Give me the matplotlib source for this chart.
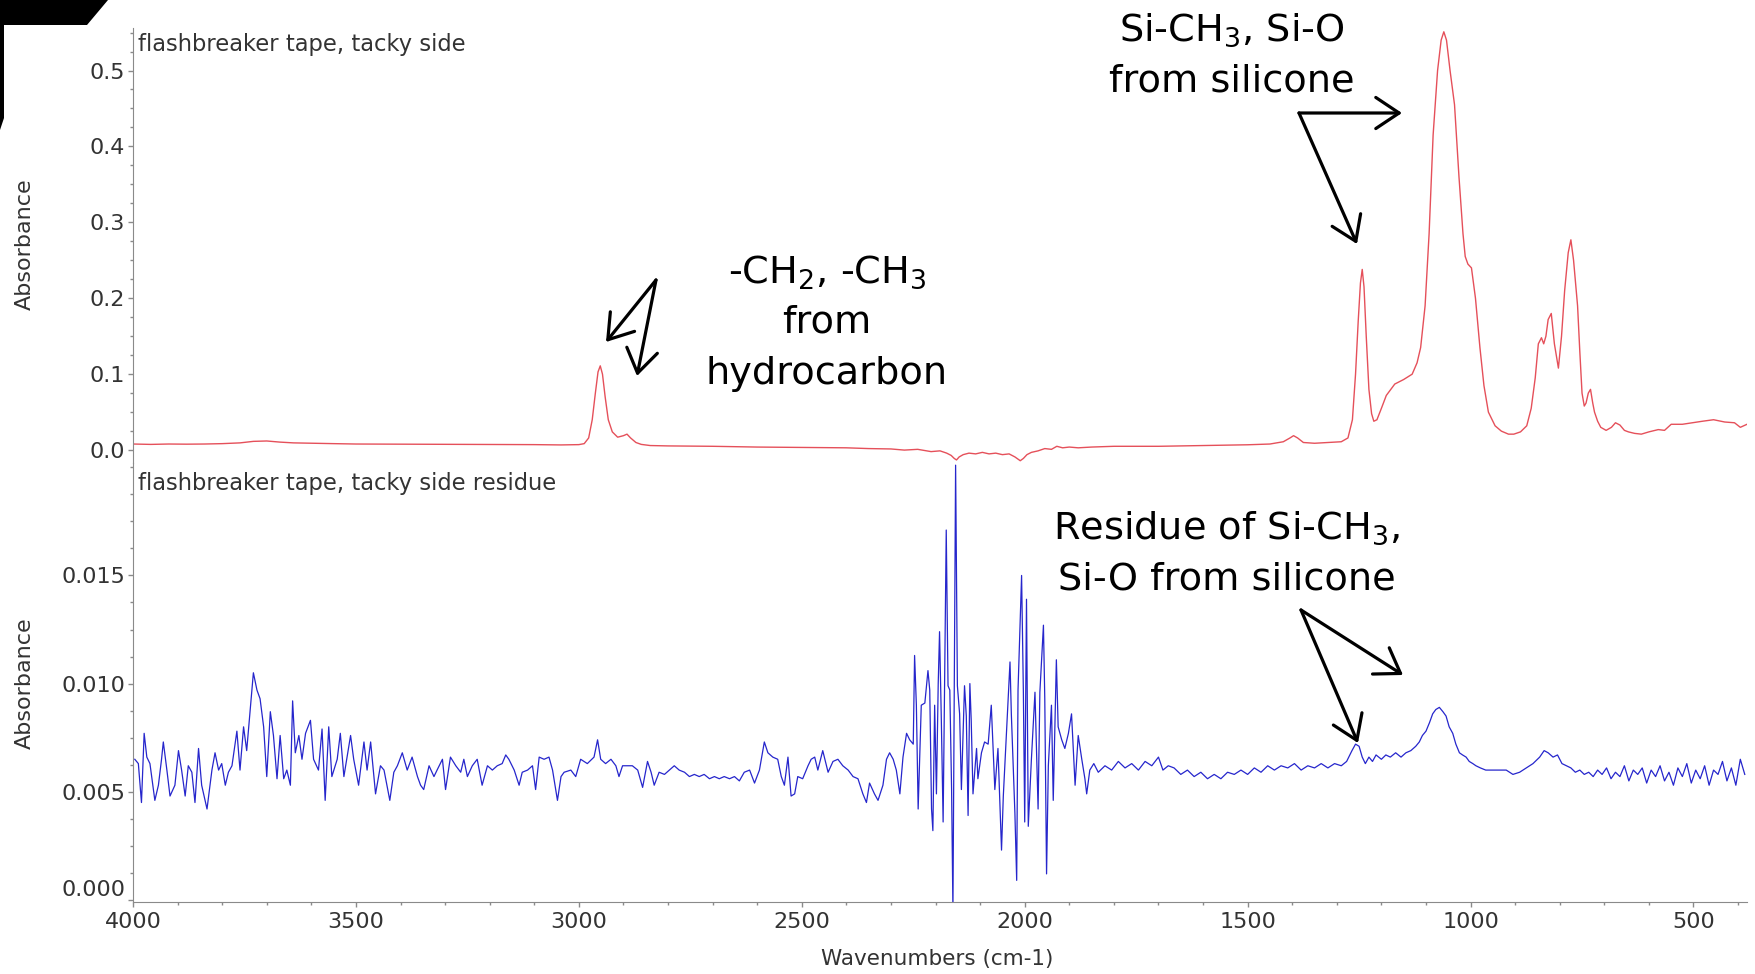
import matplotlib
matplotlib.use("Agg")
import matplotlib.pyplot as plt
from matplotlib.patches import Polygon, FancyArrowPatch
from matplotlib.ticker import MultipleLocator, FormatStrFormatter

plt.rcParams['font.family'] = ['DejaVu Sans']
plt.rcParams['mathtext.fontset'] = 'dejavusans'

# tacky side spectrum (red), wavenumber / absorbance
red_wn = [4000, 3960, 3920, 3880, 3840, 3800, 3760, 3730, 3700, 3670, 3640, 3600, 3550, 3500,
          3400, 3300, 3200, 3100, 3040, 3000, 2988, 2978, 2970, 2963, 2957, 2952, 2947, 2941,
          2934, 2925, 2913, 2900, 2892, 2884, 2872, 2860, 2840, 2800, 2700, 2600, 2500, 2400,
          2350, 2300, 2270, 2240, 2210, 2190, 2175, 2165, 2158, 2153, 2147, 2138, 2125, 2110,
          2095, 2080, 2065, 2050, 2035, 2022, 2015, 2010, 2003, 1995, 1985, 1970, 1955, 1940,
          1928, 1915, 1900, 1880, 1850, 1800, 1700, 1600, 1500, 1450, 1420, 1405, 1397, 1388,
          1375, 1350, 1320, 1290, 1275, 1265, 1258, 1252, 1247, 1243, 1239, 1234, 1228, 1222,
          1217, 1210, 1200, 1189, 1170, 1150, 1131, 1120, 1112, 1102, 1093, 1084, 1074, 1066,
          1060, 1054, 1046, 1036, 1026, 1017, 1012, 1006, 998, 989, 979, 970, 960, 945,
          931, 915, 903, 888, 874, 864, 855, 848, 841, 836, 831, 826, 819, 812,
          803, 796, 789, 781, 775, 769, 760, 755, 750, 745, 741, 736, 731, 726,
          722, 715, 708, 696, 684, 675, 665, 655, 646, 632, 617, 600, 579, 565,
          550, 525, 503, 480, 455, 430, 408, 395, 380]
red_abs = [0.008, 0.0075, 0.008, 0.0078, 0.008, 0.0085, 0.0095, 0.0115, 0.012, 0.0105, 0.0095, 0.009, 0.0085, 0.008,
           0.0078, 0.0076, 0.0074, 0.0072, 0.0068, 0.0072, 0.0085, 0.016, 0.04, 0.075, 0.103, 0.111, 0.1, 0.07,
           0.04, 0.024, 0.017, 0.019, 0.021, 0.016, 0.01, 0.0075, 0.006, 0.0055, 0.005, 0.004, 0.0035, 0.003,
           0.002, 0.0015, 0.0, 0.001, -0.002, -0.001, -0.004, -0.007, -0.011, -0.013, -0.009, -0.006, -0.004, -0.005,
           -0.003, -0.005, -0.004, -0.006, -0.005, -0.009, -0.012, -0.014, -0.011, -0.006, -0.003, -0.001, 0.002, 0.001,
           0.005, 0.003, 0.004, 0.003, 0.004, 0.005, 0.005, 0.006, 0.007, 0.008, 0.011, 0.016, 0.019, 0.016,
           0.01, 0.009, 0.01, 0.011, 0.016, 0.04, 0.1, 0.17, 0.22, 0.238, 0.215, 0.15, 0.08, 0.048,
           0.038, 0.04, 0.055, 0.072, 0.087, 0.093, 0.1, 0.115, 0.135, 0.19, 0.285, 0.415, 0.5, 0.54,
           0.551, 0.54, 0.5, 0.455, 0.36, 0.285, 0.255, 0.245, 0.24, 0.2, 0.135, 0.085, 0.05, 0.032,
           0.025, 0.021, 0.021, 0.024, 0.032, 0.055, 0.095, 0.14, 0.148, 0.14, 0.15, 0.172, 0.18, 0.14,
           0.108, 0.15, 0.21, 0.26, 0.277, 0.25, 0.19, 0.13, 0.075, 0.058, 0.062, 0.075, 0.08, 0.062,
           0.05, 0.038, 0.03, 0.026, 0.03, 0.036, 0.033, 0.026, 0.024, 0.022, 0.021, 0.024, 0.027, 0.026,
           0.034, 0.034, 0.036, 0.038, 0.04, 0.037, 0.036, 0.03, 0.034]

# residue spectrum (blue)
blue_wn = [3996, 3988, 3981, 3975, 3969, 3962, 3951, 3943, 3936, 3932, 3924, 3917, 3906, 3898,
           3891, 3883, 3876, 3868, 3861, 3853, 3846, 3834, 3823, 3816, 3808, 3801, 3793, 3786,
           3778, 3767, 3760, 3752, 3745, 3737, 3730, 3722, 3715, 3707, 3700, 3692, 3685, 3677,
           3670, 3662, 3655, 3647, 3642, 3636, 3628, 3621, 3613, 3602, 3595, 3584, 3576, 3569,
           3561, 3554, 3542, 3535, 3527, 3512, 3505, 3494, 3482, 3475, 3467, 3456, 3445, 3437,
           3424, 3415, 3407, 3396, 3385, 3374, 3362, 3355, 3348, 3336, 3325, 3318, 3306, 3299,
           3288, 3276, 3265, 3258, 3250, 3239, 3228, 3217, 3205, 3194, 3183, 3172, 3164, 3157,
           3145, 3134, 3127, 3115, 3104, 3097, 3089, 3078, 3067, 3059, 3048, 3040, 3033, 3018,
           3007, 2996, 2981,
           2966, 2958, 2951, 2940, 2928, 2917, 2910, 2902, 2891, 2880, 2868, 2857, 2846, 2838,
           2831, 2820, 2808, 2797, 2786, 2775, 2763, 2752, 2741, 2730, 2719, 2707, 2696, 2685,
           2674, 2662, 2651, 2640, 2629, 2617, 2606, 2595, 2584, 2576, 2565, 2554, 2546, 2539,
           2531, 2524, 2516, 2509, 2498, 2486, 2479, 2471, 2464, 2453, 2441, 2430, 2419, 2408,
           2396, 2385, 2374, 2363, 2355, 2348, 2337, 2329, 2318, 2310, 2303, 2295, 2288, 2280,
           2273, 2265, 2258,
           2250, 2247, 2243, 2239, 2232, 2224, 2217, 2213, 2209, 2206, 2202, 2198, 2194, 2191,
           2187, 2183, 2176, 2172, 2168, 2164, 2161, 2155, 2151, 2146, 2142, 2135, 2131, 2127,
           2123, 2120, 2116, 2108, 2105, 2097, 2090, 2082, 2075, 2067, 2060, 2052, 2048, 2041,
           2033, 2030, 2022, 2018, 2015, 2007, 2003, 2000, 1996, 1992, 1985, 1977, 1970, 1966,
           1958, 1955, 1951, 1947, 1940, 1936, 1929, 1925, 1917, 1910, 1902, 1895, 1887, 1880,
           1872, 1865, 1861, 1854,
           1845, 1835, 1820, 1805, 1790, 1775, 1760, 1745, 1730, 1715, 1700, 1690, 1678, 1665,
           1650, 1635, 1620, 1605, 1590, 1575, 1560, 1545, 1530, 1515, 1500, 1485, 1470, 1455,
           1440, 1425, 1410, 1395, 1380, 1365, 1350, 1335, 1320, 1305, 1290, 1278, 1266, 1258,
           1250, 1243, 1236, 1228, 1220, 1212, 1200, 1190, 1180, 1168, 1156, 1145, 1134, 1123,
           1115, 1108, 1100, 1092, 1085, 1078, 1070, 1062, 1055, 1048, 1040, 1033, 1025, 1018,
           1010, 1003, 995, 988, 978, 966, 955, 943, 930,
           920, 905, 890, 875, 860, 845, 835, 826, 815, 805, 795, 785, 775, 765,
           755, 745, 735, 725, 715, 705, 695, 685, 675, 665, 655, 645, 635, 625,
           615, 605, 595, 585, 575, 565, 555, 545, 535, 525, 515, 505, 495, 485,
           475, 465, 455, 445, 435, 425, 415, 405, 395, 385]
blue_abs = [0.0065, 0.0063, 0.0045, 0.0077, 0.0066, 0.0063, 0.0046, 0.0053, 0.0065, 0.0073, 0.0060, 0.0048, 0.0053, 0.0069,
            0.0060, 0.0048, 0.0062, 0.0059, 0.0045, 0.0070, 0.0053, 0.0042, 0.0060, 0.0068, 0.0060, 0.0063, 0.0053, 0.0059,
            0.0062, 0.0078, 0.0060, 0.0080, 0.0069, 0.0088, 0.0105, 0.0097, 0.0093, 0.0080, 0.0057, 0.0087, 0.0076, 0.0056,
            0.0076, 0.0056, 0.0060, 0.0053, 0.0092, 0.0068, 0.0076, 0.0065, 0.0077, 0.0083, 0.0065, 0.0060, 0.0079, 0.0046,
            0.0080, 0.0057, 0.0065, 0.0077, 0.0057, 0.0076, 0.0065, 0.0053, 0.0073, 0.0060, 0.0073, 0.0049, 0.0062, 0.0060,
            0.0046, 0.0059, 0.0062, 0.0068, 0.0060, 0.0066, 0.0057, 0.0053, 0.0051, 0.0062, 0.0057, 0.0060, 0.0065, 0.0051,
            0.0066, 0.0062, 0.0059, 0.0065, 0.0057, 0.0062, 0.0065, 0.0053, 0.0062, 0.0060, 0.0062, 0.0063, 0.0067, 0.0065,
            0.0060, 0.0053, 0.0059, 0.0060, 0.0062, 0.0051, 0.0066, 0.0065, 0.0066, 0.0060, 0.0046, 0.0057, 0.0059, 0.0060,
            0.0057, 0.0065, 0.0063,
            0.0066, 0.0074, 0.0065, 0.0063, 0.0065, 0.0062, 0.0057, 0.0062, 0.0062, 0.0062, 0.0060, 0.0052, 0.0064, 0.0059,
            0.0053, 0.0059, 0.0058, 0.0060, 0.0062, 0.0060, 0.0059, 0.0057, 0.0058, 0.0057, 0.0058, 0.0056, 0.0057, 0.0056,
            0.0057, 0.0056, 0.0057, 0.0055, 0.0059, 0.0060, 0.0054, 0.0060, 0.0073, 0.0068, 0.0066, 0.0065, 0.0057, 0.0053,
            0.0066, 0.0048, 0.0049, 0.0057, 0.0056, 0.0062, 0.0065, 0.0066, 0.0060, 0.0069, 0.0059, 0.0064, 0.0065, 0.0062,
            0.0060, 0.0057, 0.0056, 0.0049, 0.0045, 0.0054, 0.0049, 0.0046, 0.0053, 0.0065, 0.0068, 0.0065, 0.0060, 0.0049,
            0.0066, 0.0077, 0.0074,
            0.0072, 0.0113, 0.0090, 0.0042, 0.0090, 0.0091, 0.0106, 0.0097, 0.0042, 0.0032, 0.0090, 0.0049, 0.0100, 0.0124,
            0.0083, 0.0036, 0.0171, 0.0099, 0.0097, 0.0051, -0.0005, 0.0201, 0.0099, 0.0086, 0.0051, 0.0099, 0.0085, 0.0039,
            0.0100, 0.0083, 0.0049, 0.0070, 0.0056, 0.0068, 0.0073, 0.0072, 0.0090, 0.0051, 0.0070, 0.0023, 0.0048, 0.0077,
            0.0110, 0.0086, 0.0040, 0.0009, 0.0097, 0.0150, 0.0096, 0.0036, 0.0139, 0.0034, 0.0065, 0.0096, 0.0042, 0.0096,
            0.0127, 0.0093, 0.0012, 0.0062, 0.0090, 0.0046, 0.0111, 0.0080, 0.0074, 0.0070, 0.0077, 0.0086, 0.0053, 0.0076,
            0.0065, 0.0056, 0.0049, 0.0060,
            0.0063, 0.0059, 0.0062, 0.0060, 0.0064, 0.0061, 0.0063, 0.0060, 0.0064, 0.0062, 0.0066, 0.0060, 0.0062, 0.0061,
            0.0058, 0.0060, 0.0057, 0.0059, 0.0056, 0.0058, 0.0056, 0.0059, 0.0058, 0.0060, 0.0058, 0.0061, 0.0059, 0.0062,
            0.0060, 0.0062, 0.0061, 0.0063, 0.0060, 0.0062, 0.0061, 0.0063, 0.0061, 0.0063, 0.0062, 0.0064, 0.0069, 0.0072,
            0.0071, 0.0066, 0.0063, 0.0066, 0.0064, 0.0067, 0.0065, 0.0067, 0.0066, 0.0068, 0.0066, 0.0068, 0.0069, 0.0071,
            0.0073, 0.0076, 0.0078, 0.0082, 0.0086, 0.0088, 0.0089, 0.0087, 0.0085, 0.0080, 0.0077, 0.0072, 0.0068, 0.0067,
            0.0066, 0.0064, 0.0063, 0.0062, 0.0061, 0.0060, 0.0060, 0.0060, 0.0060,
            0.0060, 0.0058, 0.0059, 0.0061, 0.0063, 0.0066, 0.0069, 0.0068, 0.0066, 0.0067, 0.0063, 0.0062, 0.0061, 0.0059,
            0.0060, 0.0058, 0.0059, 0.0057, 0.0060, 0.0058, 0.0061, 0.0056, 0.0059, 0.0057, 0.0062, 0.0055, 0.0060, 0.0058,
            0.0061, 0.0054, 0.0060, 0.0057, 0.0062, 0.0055, 0.0059, 0.0053, 0.0061, 0.0057, 0.0063, 0.0054, 0.0060, 0.0056,
            0.0062, 0.0053, 0.0060, 0.0058, 0.0064, 0.0055, 0.0061, 0.0053, 0.0065, 0.0058]

W, H = 1756, 974
fig = plt.figure(figsize=(W / 100, H / 100), dpi=100)

def fx(px):
    return px / W

def fy(py):
    return 1 - py / H

left, right = 133, 1747
ax1 = fig.add_axes([fx(left), fy(463), (right - left) / W, (463 - 28) / H])
ax2 = fig.add_axes([fx(left), fy(902), (right - left) / W, (902 - 463) / H])

ax1.plot(red_wn, red_abs, color='#e5505a', lw=1.0)
ax2.plot(blue_wn, blue_abs, color='#2626cc', lw=0.9)

gray = '#8a8a8a'
txt = '#333333'
for ax in (ax1, ax2):
    ax.set_xlim(4000, 380)
    ax.set_facecolor('none')
    for s in ('top', 'right'):
        ax.spines[s].set_visible(False)
    ax.spines['left'].set_color(gray)
    ax.spines['bottom'].set_color(gray)
    ax.xaxis.set_major_locator(MultipleLocator(500))
    ax.xaxis.set_minor_locator(MultipleLocator(100))
    ax.tick_params(which='major', direction='out', length=3.5, width=1, color=gray,
                   labelsize=16, labelcolor=txt, pad=2)
    ax.tick_params(which='minor', direction='out', length=2, width=1, color=gray)
    ax.tick_params(axis='x', which='major', pad=4)

ax1.spines['bottom'].set_visible(False)
ax1.tick_params(axis='x', which='both', bottom=False, labelbottom=False)
ax1.set_ylim(-0.017, 0.556)
ax1.yaxis.set_major_locator(MultipleLocator(0.1))
ax1.yaxis.set_minor_locator(MultipleLocator(0.025))
ax1.yaxis.set_major_formatter(FormatStrFormatter('%.1f'))

ax2.set_ylim(-0.0001, 0.0202)
ax2.set_yticks([0.0, 0.005, 0.010, 0.015])
ax2.yaxis.set_minor_locator(MultipleLocator(0.00125))
ax2.yaxis.set_major_formatter(FormatStrFormatter('%.3f'))
ax2.get_yticklabels()[0].set_va('bottom')

fig.text(fx(138), fy(45), 'flashbreaker tape, tacky side', fontsize=16.3, color=txt, va='center')
fig.text(fx(138), fy(484), 'flashbreaker tape, tacky side residue', fontsize=16.3, color=txt, va='center')
fig.text(fx(25), fy(244), 'Absorbance', rotation=90, fontsize=16, color=txt, ha='center', va='center')
fig.text(fx(25), fy(683), 'Absorbance', rotation=90, fontsize=16, color=txt, ha='center', va='center')
fig.text(fx(937), fy(959), 'Wavenumbers (cm-1)', fontsize=15.5, color=txt, ha='center', va='center')

# annotations
ann = dict(ha='center', va='baseline', fontsize=27.5, color='black')
fig.text(fx(1232), fy(41), r'Si-CH$_3$, Si-O', **ann)
fig.text(fx(1232), fy(92), 'from silicone', **ann)
fig.text(fx(827), fy(283), r'-CH$_2$, -CH$_3$', **ann)
fig.text(fx(827), fy(333), 'from', **ann)
fig.text(fx(827), fy(384), 'hydrocarbon', **ann)
fig.text(fx(1227), fy(539), r'Residue of Si-CH$_3$,', **ann)
fig.text(fx(1227), fy(589), 'Si-O from silicone', **ann)

arrows = [((1299, 113), (1402, 113)), ((1299, 113), (1357, 244)),
          ((656, 280), (606, 342)), ((656, 280), (637, 376)),
          ((1301, 610), (1403, 675)), ((1301, 610), (1358, 743))]
for a, b in arrows:
    fig.add_artist(FancyArrowPatch((fx(a[0]), fy(a[1])), (fx(b[0]), fy(b[1])),
                                   transform=fig.transFigure,
                                   arrowstyle='->,head_length=0.6,head_width=0.4',
                                   mutation_scale=28, lw=2.3, color='black',
                                   shrinkA=0, shrinkB=0))

# black corner shape
corner = [(0, 0), (108, 0), (87, 25), (4, 25), (4, 118), (0, 130)]
fig.add_artist(Polygon([(fx(x), fy(y)) for x, y in corner], closed=True,
                       transform=fig.transFigure, facecolor='black', edgecolor='none'))

fig.savefig('out.png', dpi=100)
